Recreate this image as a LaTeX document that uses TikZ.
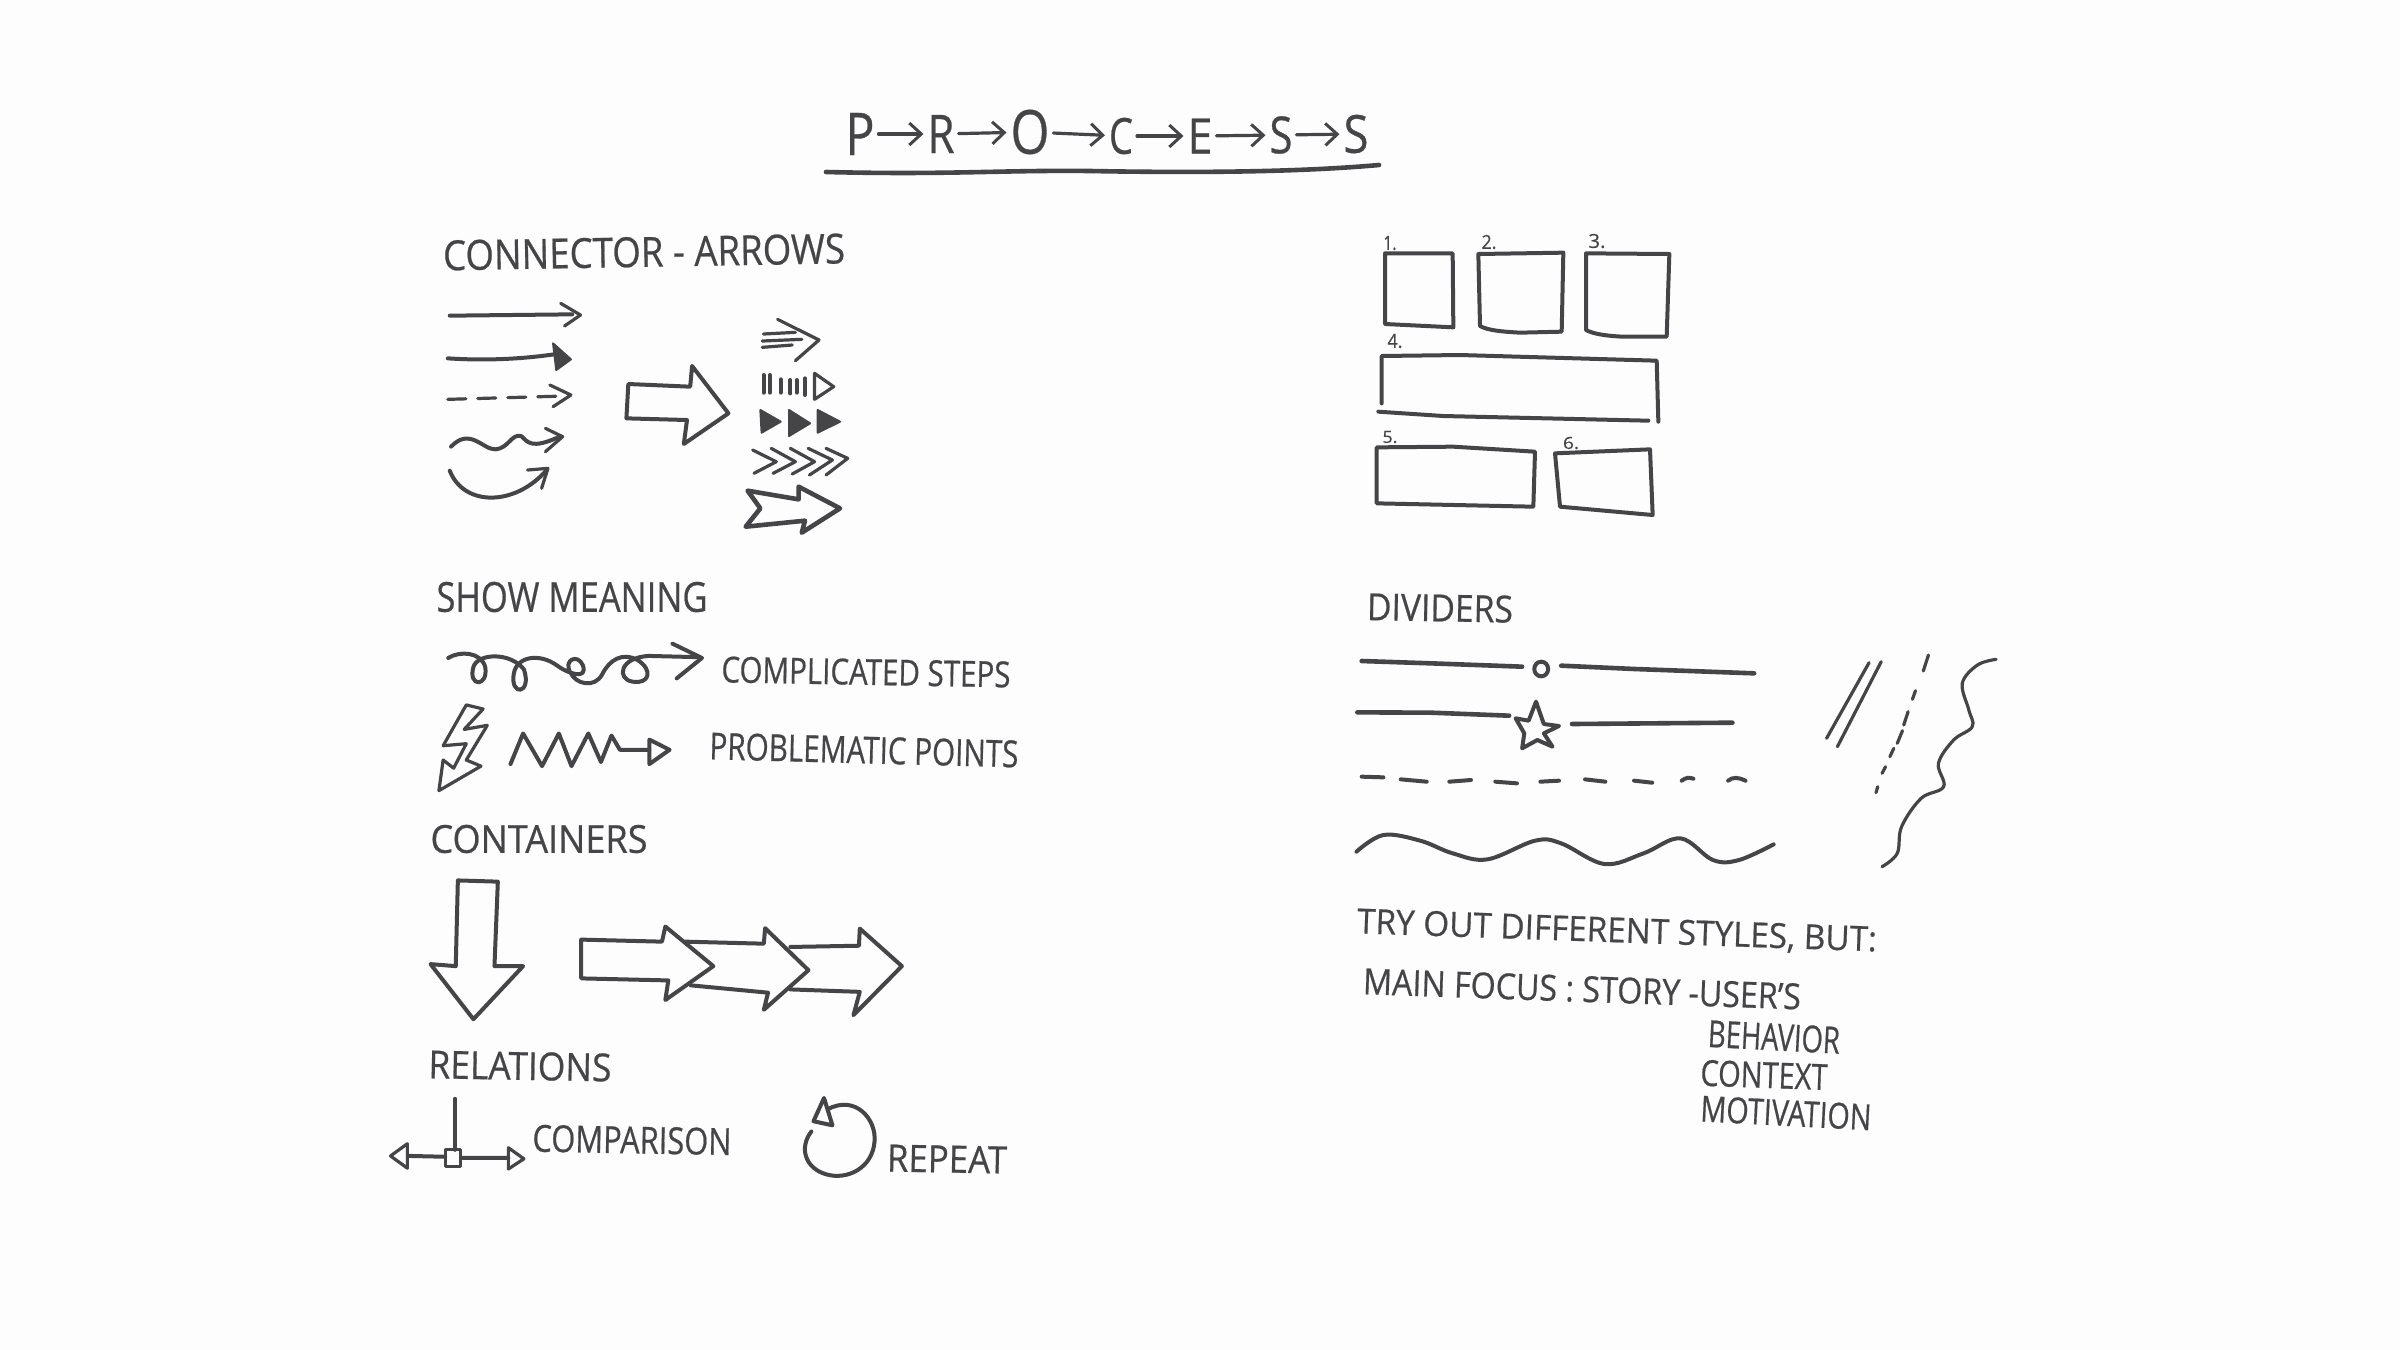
\documentclass[tikz,border=0pt]{standalone}
\usepackage{graphicx}
\usepackage{fontspec}
\setmainfont{Open Sans}[FakeBold=0.6]
\usetikzlibrary{arrows.meta}
\definecolor{ink}{HTML}{454548}
\definecolor{paper}{HTML}{FDFDFE}
\tikzset{
  ink line/.style={draw=ink,line width=2pt,line cap=round,line join=round},
  thin ink/.style={draw=ink,line width=1.6pt,line cap=round,line join=round},
  thick ink/.style={draw=ink,line width=2.3pt,line cap=round,line join=round},
  solid head/.style={draw=ink,fill=ink,line width=1pt,line join=round},
  hand text/.style={inner sep=0pt,outer sep=0pt,text=ink},
  title arrow/.style={thin ink,shorten >=2pt,shorten <=2pt,-{Straight Barb[length=6pt,width=11pt,line width=1.5pt]}},
  z1/.style={shift={(200pt,-40pt)},x=0.31888pt,y=-0.16667pt},
  z2/.style={shift={(190pt,-280pt)},x=0.21044pt,y=-0.20408pt},
  z3/.style={shift={(670pt,-285pt)},x=0.21683pt,y=-0.16667pt},
  z5/.style={shift={(680pt,-110pt)},x=0.16667pt,y=-0.16667pt}
}
\newcommand{\hand}[7]{\node[hand text,rotate=#6] (#1) at (#2,#3) {\resizebox{\dimexpr #4pt/2\relax}{\dimexpr #5pt/2\relax}{#7}};}
\begin{document}
\begin{tikzpicture}[x=0.5pt,y=-0.5pt]
\fill[paper] (0,0) rectangle (2400,1350);
\useasboundingbox (0,0) rectangle (2400,1350);

% Title
\hand{tP}{860}{134}{29}{42}{0}{P}
\hand{tR}{941}{134}{27}{38}{0}{R}
\hand{tO}{1030}{132}{39}{44}{0}{O}
\hand{tC}{1121}{136}{24}{36}{0}{C}
\hand{tE}{1200}{136}{25}{35}{0}{E}
\hand{tS}{1281}{135}{23}{37}{0}{S}
\hand{tT}{1356}{134}{25}{38}{0}{S}
\draw[title arrow] (tP) -- (tR);
\draw[title arrow] (tR) -- (tO);
\draw[title arrow] (tO) -- (tC);
\draw[title arrow] (tC) -- (tE);
\draw[title arrow] (tE) -- (tS);
\draw[title arrow] (tS) -- (tT);
\coordinate (ulA) at (826,172);
\coordinate (ulM) at (1090,171);
\coordinate (ulB) at (1379,165);
\draw[thick ink] (ulA) .. controls (950,175) and (1000,170) .. (ulM) .. controls (1200,173) and (1300,172) .. (ulB);

% Headings and labels
\hand{hConn}{644}{252}{402}{30}{1}{CONNECTOR - ARROWS}
\hand{hShow}{572}{597}{271}{30}{0}{SHOW MEANING}
\hand{lComp}{866}{672}{289}{26}{-1}{COMPLICATED STEPS}
\hand{lProb}{864}{750}{309}{27}{-1.5}{PROBLEMATIC POINTS}
\hand{hCont}{539}{839}{217}{28}{0}{CONTAINERS}
\hand{hRel}{520}{1066}{183}{28}{-1}{RELATIONS}
\hand{lCmp}{632}{1140}{199}{27}{-1}{COMPARISON}
\hand{lRep}{947}{1159}{120}{27}{-1}{REPEAT}
\hand{hDiv}{1440}{608}{146}{27}{-1}{DIVIDERS}
\hand{tTry}{1617}{932}{520}{25}{-2}{TRY OUT DIFFERENT STYLES, BUT:}
\hand{tMain}{1582}{989}{438}{26}{-2}{MAIN FOCUS : STORY -USER'S}
\hand{tBeh}{1774}{1037}{132}{27}{-3}{BEHAVIOR}
\hand{tCtx}{1764}{1075}{127}{26}{-2}{CONTEXT}
\hand{tMot}{1786}{1113}{171}{26}{-3}{MOTIVATION}
\hand{n1}{1390}{243}{13}{14}{0}{1.}
\hand{n2}{1489}{242}{15}{14}{0}{2.}
\hand{n3}{1597}{241}{17}{14}{0}{3.}
\hand{n4}{1395}{341}{15}{14}{0}{4.}
\hand{n5}{1390}{437}{15}{12}{0}{5.}
\hand{n6}{1571}{443}{16}{12}{0}{6.}

% Connector arrows
\begin{scope}[z1]
\draw[ink line] (78,707) -- (270,703);
\draw[thin ink] (252,670) -- (283,705) -- (258,738);
\draw[ink line] (75,835) .. controls (130,842) and (190,838) .. (245,822);
\draw[solid head] (240,790) -- (268,838) -- (245,870) -- cycle;
\draw[thin ink,dash pattern=on 9pt off 6pt] (75,958) -- (258,948);
\draw[thin ink] (235,915) -- (268,945) -- (240,980);
\draw[ink line] (80,1100) .. controls (110,1040) and (130,1110) .. (150,1108) .. controls (170,1105) and (175,1060) .. (190,1068) .. controls (200,1085) and (205,1110) .. (250,1070);
\draw[thin ink] (228,1045) -- (255,1070) -- (228,1115);
\draw[ink line] (78,1172) .. controls (100,1280) and (180,1280) .. (230,1170);
\draw[thin ink] (200,1170) -- (232,1165) -- (222,1225);
\draw[ink line] (358,912) -- (455,920) -- (458,858) -- (515,1000) -- (445,1092) -- (450,1020) -- (355,1015) -- cycle;
% line-filled arrow
\draw[thin ink] (570,762) -- (620,757) (568,783) -- (630,778) (568,802) -- (615,795);
\draw[thin ink] (592,718) -- (657,780) -- (620,842);
% tick arrow
\draw[ink line] (570,885) -- (570,938) (580,885) -- (580,938) (597,898) -- (597,938) (612,900) -- (612,940) (622,900) -- (622,938) (635,895) -- (635,945);
\draw[thin ink] (650,880) -- (680,920) -- (650,958) -- cycle;
% solid heads
\draw[solid head] (565,990) -- (597,1025) -- (567,1058) -- cycle;
\draw[solid head] (610,990) -- (643,1030) -- (610,1068) -- cycle;
\draw[solid head] (655,990) -- (690,1025) -- (655,1058) -- cycle;
% chevrons
\draw[thin ink] (553,1110) -- (590,1145) -- (555,1180);
\draw[thin ink] (582,1105) -- (620,1145) -- (585,1180);
\draw[thin ink] (612,1105) -- (650,1145) -- (615,1182);
\draw[thin ink] (640,1105) -- (678,1140) -- (642,1185);
\draw[thin ink] (668,1105) -- (702,1135) -- (668,1185);
% hollow double arrow
\draw[thick ink] (545,1232) -- (625,1258) -- (625,1220) -- (690,1285) -- (630,1358) -- (635,1322) -- (542,1340) -- (565,1285) -- cycle;
\end{scope}

% Show meaning, containers, relations
\begin{scope}[z2]
\draw[ink line] (162,240) .. controls (190,222) and (240,225) .. (250,262) .. controls (258,312) and (208,312) .. (222,262) .. controls (232,228) and (310,225) .. (342,268) .. controls (362,330) and (308,335) .. (318,278) .. controls (325,235) and (380,228) .. (420,258) .. controls (445,278) and (495,295) .. (482,258) .. controls (470,228) and (435,245) .. (452,275) .. controls (465,305) and (510,315) .. (528,280) .. controls (545,245) and (575,225) .. (612,245) .. controls (650,270) and (640,305) .. (600,298) .. controls (562,292) and (568,238) .. (640,235) -- (755,238);
\draw[ink line] (695,205) -- (765,240) -- (705,290);
\draw[thin ink] (205,355) -- (245,365) -- (200,415) -- (255,405) -- (205,490) -- (240,505) -- (140,565) -- (150,490) -- (175,510) -- (205,450) -- (150,455) -- cycle;
\draw[ink line] (310,500) -- (340,425) -- (385,505) -- (425,425) -- (455,505) -- (495,425) -- (525,495) -- (550,430) -- (570,465) -- (640,465);
\draw[ink line] (640,440) -- (688,465) -- (640,500) -- cycle;
\draw[ink line] (185,785) -- (280,788) -- (272,995) -- (340,995) -- (222,1125) -- (120,990) -- (180,995) -- cycle;
\draw[ink line] (478,930) -- (670,935) -- (678,898) -- (792,995) -- (678,1078) -- (685,1030) -- (478,1025) -- cycle;
\draw[ink line] (725,935) -- (912,940) -- (915,902) -- (1018,1005) -- (912,1102) -- (922,1060) -- (738,1042);
\draw[ink line] (975,948) -- (1138,945) -- (1140,903) -- (1240,995) -- (1125,1115) -- (1140,1058) -- (975,1052);
\draw[ink line] (178,1320) -- (178,1445);
\draw[thin ink] (155,1445) rectangle (192,1485);
\draw[ink line] (70,1460) -- (155,1462) (195,1465) -- (305,1465);
\draw[thin ink] (65,1430) -- (25,1460) -- (65,1490) -- cycle;
\draw[thin ink] (305,1440) -- (342,1467) -- (305,1492) -- cycle;
\draw[ink line] (1065,1345) .. controls (1130,1310) and (1180,1370) .. (1175,1425) .. controls (1170,1490) and (1110,1520) .. (1060,1505) .. controls (1010,1490) and (995,1440) .. (1025,1400);
\draw[ink line] (1055,1318) -- (1030,1375) -- (1075,1385) -- cycle;
\end{scope}

% Dividers
\begin{scope}[z3]
\draw[thick ink] (50,273) -- (210,280) -- (420,290);
\draw[ink line] (464,297) ellipse [x radius=16,y radius=22];
\draw[thick ink] (510,287) -- (680,297) -- (955,310);
\draw[thick ink] (40,427) -- (210,428) -- (390,437);
\draw[ink line] (452,395) -- (470,462) -- (505,468) -- (470,490) -- (490,530) -- (455,510) -- (420,535) -- (425,490) -- (405,445) -- (435,452) -- cycle;
\draw[thick ink] (535,462) -- (905,458);
\draw[ink line] (50,620) -- (100,622) (140,628) -- (200,635) (252,635) -- (302,630) (358,635) -- (408,640) (462,635) -- (505,632) (565,628) -- (612,635) (678,632) -- (720,638);
\draw[ink line] (788,632) .. controls (798,622) and (805,622) .. (815,626);
\draw[ink line] (895,632) .. controls (905,620) and (920,622) .. (935,632);
\draw[ink line] plot[smooth,tension=0.6] coordinates {(38,845) (100,795) (185,812) (260,850) (340,868) (450,812) (510,820) (610,882) (700,850) (785,805) (860,870) (920,870) (1000,823)};
\draw[thin ink] (1220,278) -- (1122,505);
\draw[thin ink] (1248,275) -- (1147,530);
\draw[thin ink] (1357,255) -- (1345,303) (1327,362) -- (1320,388) (1310,425) -- (1300,465) (1297,482) -- (1285,520) (1277,535) -- (1268,560) (1258,590) -- (1250,610) (1240,650) -- (1236,668);
\draw[thin ink] plot[smooth,tension=0.6] coordinates {(1513,268) (1470,285) (1435,340) (1450,420) (1458,470) (1415,510) (1380,580) (1392,650) (1340,685) (1295,770) (1285,850) (1250,890)};
\end{scope}

% Layout grid
\begin{scope}[z5]
\draw[ink line] (75,100) -- (278,100) -- (280,322) -- (75,312) -- cycle;
\draw[ink line] (355,102) -- (610,98) -- (605,335) -- (480,338) .. controls (430,335) and (385,332) .. (360,318) -- cycle;
\draw[ink line] (678,100) -- (928,102) -- (920,350) -- (790,350) .. controls (740,348) and (700,342) .. (678,330) -- cycle;
\draw[ink line] (65,550) -- (65,408) -- (300,405) -- (890,422) -- (895,605);
\draw[ink line] (55,575) -- (250,588) -- (865,602);
\draw[ink line] (50,682) -- (280,680) -- (525,695) -- (520,860) -- (50,850) -- cycle;
\draw[ink line] (585,700) -- (870,688) -- (878,885) -- (600,860) -- cycle;
\end{scope}
\end{tikzpicture}
\end{document}
